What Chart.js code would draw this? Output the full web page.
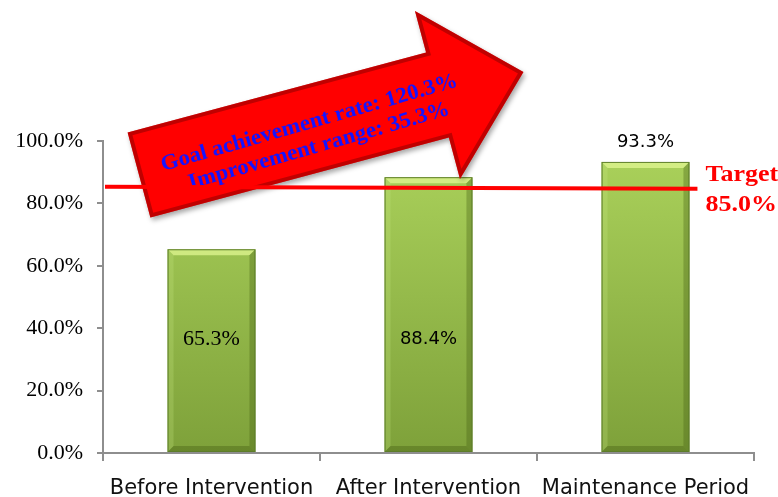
<!DOCTYPE html>
<html>
<head>
<meta charset="utf-8">
<script src="https://cdn.jsdelivr.net/npm/chart.js@4.4.1/dist/chart.umd.min.js"></script>
<style>
  body { margin: 0; background: #fff; }
  #wrap { width: 778px; height: 497px; }
</style>
</head>
<body>
<div id="wrap"><canvas id="myChart" width="778" height="497"></canvas></div>
<script>
// chart data
const categories = ['Before Intervention', 'After Intervention', 'Maintenance Period'];
const rates = [65.3, 88.4, 93.3];
const targetRate = 85.0;
const goalAchievement = 120.3;
const improvement = 35.3;
const yTicks = [0, 20, 40, 60, 80, 100];

// label fonts for each bar value (style only)
const labelFonts = ['22px "Liberation Serif"', '18px "DejaVu Sans"', '18px "DejaVu Sans"'];

const ctx = document.getElementById('myChart').getContext('2d');

function barGradient(context) {
    const chart = context.chart;
    const area = chart.chartArea;
    if (!area) return '#9cc64e';
    const g = chart.ctx.createLinearGradient(0, area.top, 0, area.bottom);
    g.addColorStop(0, '#acd35c');
    g.addColorStop(1, '#7ea13a');
    return g;
}

// bevel look on the bars
const bevelPlugin = {
    id: 'bevel',
    afterDatasetsDraw(chart) {
        const c = chart.ctx;
        const meta = chart.getDatasetMeta(0);
        meta.data.forEach(bar => {
            const l = bar.x - bar.width / 2, r = bar.x + bar.width / 2;
            const t = bar.y, b = bar.base;
            const d = 6;
            c.save();
            c.fillStyle = 'rgba(230,250,150,0.7)';
            c.beginPath();
            c.moveTo(l, t); c.lineTo(r, t); c.lineTo(r - d, t + d); c.lineTo(l + d, t + d); c.closePath();
            c.fill();
            c.fillStyle = 'rgba(200,230,130,0.25)';
            c.beginPath();
            c.moveTo(l, t); c.lineTo(l + d, t + d); c.lineTo(l + d, b - d); c.lineTo(l, b); c.closePath();
            c.fill();
            c.fillStyle = 'rgba(70,95,20,0.35)';
            c.beginPath();
            c.moveTo(r, t); c.lineTo(r, b); c.lineTo(r - d, b - d); c.lineTo(r - d, t + d); c.closePath();
            c.fill();
            c.fillStyle = 'rgba(70,95,20,0.4)';
            c.beginPath();
            c.moveTo(l, b); c.lineTo(r, b); c.lineTo(r - d, b - d); c.lineTo(l + d, b - d); c.closePath();
            c.fill();
            c.strokeStyle = '#5d7d2a';
            c.lineWidth = 1;
            c.strokeRect(l + 0.5, t + 0.5, bar.width - 1, b - t - 1);
            c.restore();
        });
    }
};

function drawArrow(c, cx, cy, ang) {
    const L = 309, hw = 44, hh = 87, hl = 89;
    c.save();
    c.translate(cx, cy);
    c.rotate(ang);
    c.beginPath();
    c.moveTo(0, -hw);
    c.lineTo(L, -hw);
    c.lineTo(L, -hh);
    c.lineTo(L + hl, 0);
    c.lineTo(L, hh);
    c.lineTo(L, hw);
    c.lineTo(0, hw);
    c.closePath();
    c.shadowColor = 'rgba(0,0,0,0.35)';
    c.shadowBlur = 5;
    c.shadowOffsetX = 2;
    c.shadowOffsetY = 3;
    c.fillStyle = '#ff0000';
    c.fill();
    c.shadowColor = 'transparent';
    c.clip();
    c.strokeStyle = 'rgba(140,0,0,0.55)';
    c.lineWidth = 8;
    c.stroke();

    // text slightly steeper than the arrow, as in the original
    c.rotate(-1 * Math.PI / 180);
    c.fillStyle = '#1414ff';
    c.font = 'bold 22px "Liberation Serif"';
    c.textAlign = 'center';
    c.textBaseline = 'middle';
    c.save();
    c.translate(178, -3);
    c.scale(1.04, 1);
    c.fillText('Goal achievement rate: ' + goalAchievement.toFixed(1) + '%', 0, 0);
    c.restore();
    c.save();
    c.translate(181, 22);
    c.scale(1.04, 1);
    c.fillText('Improvement range: ' + improvement.toFixed(1) + '%', 0, 0);
    c.restore();
    c.restore();
}

// arrow, target line and value labels
const overlayPlugin = {
    id: 'overlay',
    afterDraw(chart) {
        const c = chart.ctx;
        const area = chart.chartArea;
        const yScale = chart.scales.y;
        const meta = chart.getDatasetMeta(0);

        drawArrow(c, area.left + 36, area.top + 34, -15 * Math.PI / 180);

        // target line
        const ty = yScale.getPixelForValue(targetRate);
        const last = meta.data[meta.data.length - 1];
        const xEnd = last.x + last.width / 2 + 8;
        c.save();
        c.strokeStyle = '#ff0000';
        c.lineWidth = 4;
        c.beginPath();
        c.moveTo(area.left + 2, ty - 1);
        c.lineTo(xEnd, ty + 1);
        c.stroke();

        // target text, a little wide like the original
        c.save();
        c.translate(xEnd + 8, ty);
        c.scale(1.13, 1);
        c.fillStyle = '#ff0000';
        c.font = 'bold 23px "Liberation Serif"';
        c.textAlign = 'left';
        c.textBaseline = 'middle';
        c.fillText('Target', 0, -13);
        c.fillText(targetRate.toFixed(1) + '%', 0, 17);
        c.restore();

        // value labels
        c.fillStyle = '#000';
        c.textAlign = 'center';
        c.textBaseline = 'middle';
        meta.data.forEach((bar, i) => {
            c.font = labelFonts[i];
            const v = rates[i];
            let y;
            if (v > 90) {
                y = bar.y - 20;
            } else {
                y = yScale.getPixelForValue(36.5);
            }
            c.fillText(v.toFixed(1) + '%', bar.x, y);
        });
        c.restore();
    }
};

const config = {
    type: 'bar',
    data: {
        labels: categories,
        datasets: [{
            label: 'Rate',
            data: rates,
            backgroundColor: barGradient,
            borderWidth: 0,
            categoryPercentage: 0.405,
            barPercentage: 1
        }]
    },
    options: {
        responsive: false,
        animation: false,
        devicePixelRatio: 1,
        layout: { padding: { top: 141, right: 24, left: 0, bottom: 0 } },
        plugins: {
            legend: { display: false },
            tooltip: { enabled: false }
        },
        scales: {
            x: {
                grid: { display: true, drawOnChartArea: false, color: '#8e8e8e', tickLength: 8, lineWidth: 2 },
                border: { color: '#8e8e8e', width: 2 },
                ticks: {
                    color: '#111',
                    font: { family: 'DejaVu Sans', size: 21 },
                    padding: 15,
                    maxRotation: 0,
                    autoSkip: false
                },
                afterFit(scale) { scale.height = 44; }
            },
            y: {
                min: 0,
                max: 100,
                afterBuildTicks(scale) { scale.ticks = yTicks.map(v => ({ value: v })); },
                grid: { display: true, drawOnChartArea: false, color: '#8e8e8e', tickLength: 6, lineWidth: 2 },
                border: { color: '#8e8e8e', width: 2 },
                ticks: {
                    color: '#000',
                    font: { family: 'Liberation Serif', size: 22 },
                    padding: 14,
                    callback: v => v.toFixed(1) + '%'
                },
                afterFit(scale) { scale.width = 103; }
            }
        }
    },
    plugins: [bevelPlugin, overlayPlugin]
};

const chart = new Chart(ctx, config);
</script>
</body>
</html>
